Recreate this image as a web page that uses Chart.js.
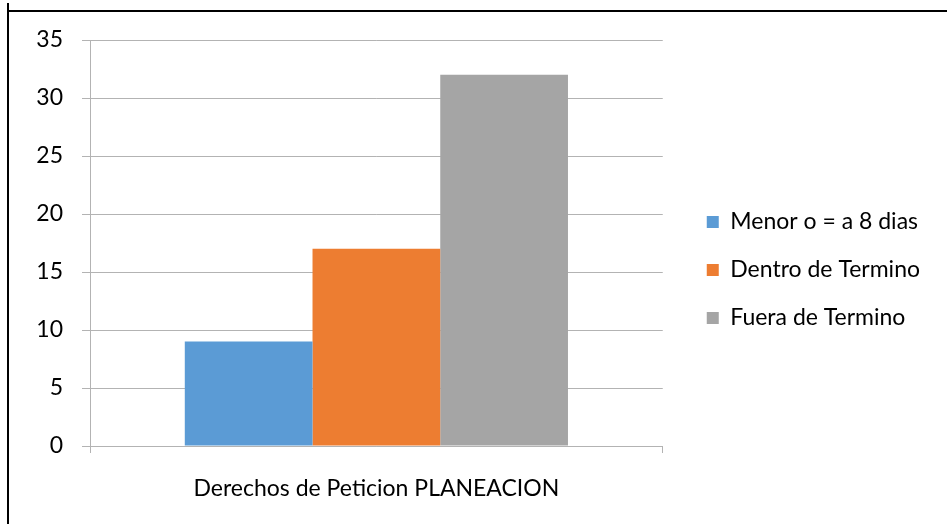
<!DOCTYPE html>
<html>
<head>
<meta charset="utf-8">
<script src="https://cdn.jsdelivr.net/npm/chart.js@4/dist/chart.umd.min.js"></script>
<style>
  html, body { margin: 0; padding: 0; background: #fff; }
  #wrap { position: relative; width: 947px; height: 524px; overflow: hidden; }
  #c { position: absolute; left: 0; top: 0; }
  .ln { position: absolute; background: #000; }
</style>
</head>
<body>
<div id="wrap">
  <canvas id="c" width="947" height="524"></canvas>
  <div class="ln" style="left:7px; top:10px; width:940px; height:2px;"></div>
  <div class="ln" style="left:7px; top:3px; width:2px; height:521px;"></div>
</div>
<script>
const categories = ['Derechos de Peticion PLANEACION'];
const seriesNames = ['Menor o = a 8 dias', 'Dentro de Termino', 'Fuera de Termino'];
const menorValues = [9];
const dentroValues = [17];
const fueraValues = [32];
const yTicks = [0, 5, 10, 15, 20, 25, 30, 35];

const FONT = 'Lato, "Open Sans", sans-serif';
const FSIZE = 23;
const gridColor = '#b3b3b3';

new Chart(document.getElementById('c'), {
  type: 'bar',
  data: {
    labels: categories,
    datasets: [
      { label: seriesNames[0], data: menorValues, backgroundColor: '#5B9BD5' },
      { label: seriesNames[1], data: dentroValues, backgroundColor: '#ED7D31' },
      { label: seriesNames[2], data: fueraValues, backgroundColor: '#A5A5A5' }
    ]
  },
  options: {
    responsive: false,
    devicePixelRatio: 1,
    animation: false,
    layout: { padding: { left: 0, top: 40, right: 17, bottom: 24 } },
    datasets: { bar: { barPercentage: 1, categoryPercentage: 0.669 } },
    plugins: {
      legend: {
        position: 'right',
        align: 'center',
        maxWidth: 400,
        labels: {
          boxWidth: 12, boxHeight: 12, padding: 25,
          color: '#000',
          font: { family: FONT, size: FSIZE }
        }
      },
      tooltip: { enabled: false }
    },
    scales: {
      x: {
        grid: { display: true, drawOnChartArea: false, drawTicks: true, tickLength: 7, color: gridColor },
        border: { display: true, color: gridColor },
        ticks: { color: '#000', padding: 22, font: { family: FONT, size: FSIZE } },
        afterFit(s) { s.height = 54; }
      },
      y: {
        min: 0, max: 35,
        afterBuildTicks(s) { s.ticks = yTicks.map(v => ({ value: v })); },
        grid: { color: gridColor, tickLength: 8 },
        border: { display: true, color: gridColor },
        ticks: { color: '#000', padding: 19, font: { family: FONT, size: FSIZE } },
        afterFit(s) { s.width = 90; }
      },
      y2: {
        position: 'right',
        display: true,
        grid: { display: false },
        border: { display: false },
        ticks: { display: false },
        afterFit(s) { s.width = 19; }
      }
    }
  }
});
</script>
</body>
</html>
